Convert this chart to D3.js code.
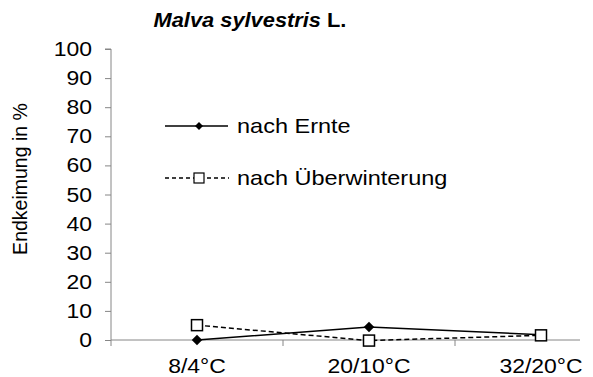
<!DOCTYPE html>
<html><head><meta charset="utf-8">
<script src="https://cdn.jsdelivr.net/npm/d3@7"></script>
<style>body{margin:0;background:#fff}svg{display:block}</style>
</head><body>
<script>
const categories = ["8/4°C", "20/10°C", "32/20°C"];
const nachErnte = [0, 4.5, 1.8];
const nachUeberwinterung = [5.1, -0.2, 1.6];
const yTicks = [0,10,20,30,40,50,60,70,80,90,100];
const seriesNames = ["nach Ernte", "nach Überwinterung"];

const W = 593, H = 377;
const SX = 1.12;
const svg = d3.select("body").append("svg").attr("width", W).attr("height", H);
const font = "Liberation Sans, Arial, sans-serif";

const x = d3.scaleBand().domain(categories).range([111, 627]);
const y = d3.scaleLinear().domain([0, 100]).range([340, 49]);

function stext(g, px, py, size, anchor, str) {
  return g.append("text").attr("transform", `translate(${px},${py}) scale(${SX},1)`)
    .attr("text-anchor", anchor).attr("font-family", font).attr("font-size", size).text(str);
}

// y axis
const ya = svg.append("g").attr("transform", "translate(111,0)")
  .call(d3.axisLeft(y).tickValues(yTicks).tickSize(6).tickPadding(11));
ya.select(".domain").attr("stroke", "#868686").attr("d", `M-6,${y(100)}H0V${y(0)}`);
ya.selectAll(".tick line").attr("stroke", "#868686");
ya.selectAll("text").attr("font-family", font).attr("font-size", 20.5).attr("fill", "#000")
  .attr("transform", `scale(${SX},1)`);

// x axis
const xa = svg.append("g").attr("transform", "translate(0,340)");
xa.append("line").attr("x1", 111).attr("x2", 580).attr("y1", 0).attr("y2", 0).attr("stroke", "#868686");
const bounds = categories.map(c => x(c)).concat([x(categories[categories.length-1]) + x.bandwidth()]).filter(v => v <= 580);
xa.selectAll(".xt").data(bounds).enter().append("line")
  .attr("x1", d => d).attr("x2", d => d).attr("y1", 0).attr("y2", 6).attr("stroke", "#868686");
categories.forEach(c => stext(xa, x(c) + x.bandwidth()/2, 33, 20.5, "middle", c));

const cx = d => x(d) + x.bandwidth()/2;
const line = d3.line().x(d => cx(d.c)).y(d => y(d.v));
const d1 = categories.map((c,i) => ({c, v: nachErnte[i]}));
const d2 = categories.map((c,i) => ({c, v: nachUeberwinterung[i]}));

svg.append("path").attr("d", line(d2)).attr("fill", "none").attr("stroke", "#000").attr("stroke-width", 1.5).attr("stroke-dasharray", "5,3");
svg.append("path").attr("d", line(d1)).attr("fill", "none").attr("stroke", "#000").attr("stroke-width", 1.5);

svg.selectAll(".dm").data(d1).enter().append("path")
  .attr("d", d3.symbol().type(d3.symbolSquare).size(55)())
  .attr("transform", d => `translate(${cx(d.c)},${y(d.v)}) rotate(45)`).attr("fill", "#000");
svg.selectAll(".sq").data(d2).enter().append("rect")
  .attr("x", d => cx(d.c) - 5.5).attr("y", d => y(d.v) - 5.5).attr("width", 11).attr("height", 11)
  .attr("fill", "#fff").attr("stroke", "#000").attr("stroke-width", 1.5);

// legend
const lg = svg.append("g");
lg.append("line").attr("x1", 165).attr("x2", 228).attr("y1", 126).attr("y2", 126).attr("stroke", "#000").attr("stroke-width", 1.5);
lg.append("path").attr("d", d3.symbol().type(d3.symbolSquare).size(32)()).attr("transform", "translate(199,126) rotate(45)");
stext(lg, 237, 133, 21, "start", seriesNames[0]);
lg.append("line").attr("x1", 165).attr("x2", 229).attr("y1", 178).attr("y2", 178).attr("stroke", "#000").attr("stroke-width", 1.5).attr("stroke-dasharray", "4,3");
lg.append("rect").attr("x", 194).attr("y", 173).attr("width", 10).attr("height", 10).attr("fill", "#fff").attr("stroke", "#000").attr("stroke-width", 1.2);
stext(lg, 237, 185, 21, "start", seriesNames[1]);

// y title
svg.append("text").attr("transform", "translate(27,179) rotate(-90)").attr("text-anchor", "middle")
  .attr("font-family", font).attr("font-size", 19.5).text("Endkeimung in %");

// title
const t = stext(svg, 250, 27, 19.5, "middle", null).attr("font-weight", "bold");
t.append("tspan").attr("font-style", "italic").text("Malva sylvestris");
t.append("tspan").text(" L.");
</script>
</body></html>
